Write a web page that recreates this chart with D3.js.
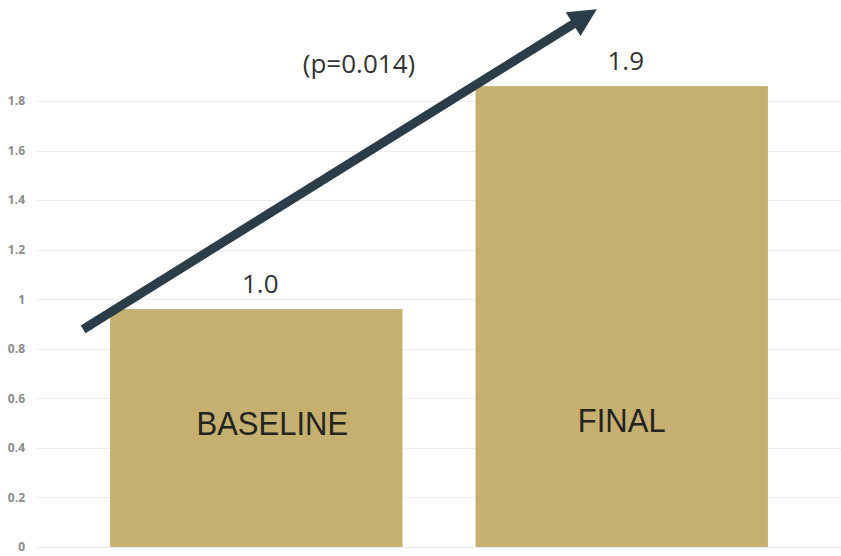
<!DOCTYPE html>
<html>
<head>
<meta charset="utf-8">
<script src="https://cdn.jsdelivr.net/npm/d3@7"></script>
<style>
  html, body { margin: 0; padding: 0; background: #fff; }
  svg { display: block; }
</style>
</head>
<body>
<svg id="chart" width="841" height="556"></svg>
<script>
// Chart data
const categories = ["BASELINE", "FINAL"];
const values = [0.96, 1.86];
const yTicks = [0, 0.2, 0.4, 0.6, 0.8, 1, 1.2, 1.4, 1.6, 1.8];
const pValueLabel = "(p=0.014)";

const W = 841, H = 556;
const svg = d3.select("#chart");

const x = d3.scaleBand()
  .domain(categories)
  .range([37, 841])
  .paddingInner(0.2)
  .paddingOuter(0.2);

const y = d3.scaleLinear()
  .domain([0, 1.8])
  .range([547, 101]);

// Horizontal gridlines
svg.append("g")
  .selectAll("line")
  .data(yTicks)
  .join("line")
  .attr("x1", 37)
  .attr("x2", W)
  .attr("y1", d => Math.round(y(d)) + 0.5)
  .attr("y2", d => Math.round(y(d)) + 0.5)
  .attr("stroke", "#ececec")
  .attr("stroke-width", 1.2);

// Y axis tick labels
const yAxis = d3.axisLeft(y)
  .tickValues(yTicks)
  .tickFormat(d3.format("~g"))
  .tickSize(0)
  .tickPadding(0);

const axisG = svg.append("g")
  .attr("transform", "translate(25,0)")
  .call(yAxis);
axisG.select(".domain").remove();
axisG.selectAll("text")
  .attr("fill", "#8c8c8c")
  .attr("font-family", "'Open Sans', sans-serif")
  .attr("font-weight", 700)
  .attr("font-size", 12);

// Bars
svg.append("g")
  .selectAll("rect")
  .data(categories)
  .join("rect")
  .attr("x", d => x(d))
  .attr("y", (d, i) => y(values[i]))
  .attr("width", x.bandwidth())
  .attr("height", (d, i) => y(0) - y(values[i]))
  .attr("fill", "#c5b070");

// Value labels above bars
svg.append("g")
  .selectAll("text")
  .data(categories)
  .join("text")
  .attr("x", d => x(d) + x.bandwidth() / 2 + 4)
  .attr("y", (d, i) => y(values[i]) - 16)
  .attr("text-anchor", "middle")
  .attr("font-family", "'Open Sans', sans-serif")
  .attr("font-size", 26)
  .attr("fill", "#333")
  .text((d, i) => d3.format(".1f")(values[i]));

// Category names inside bars
const nameShift = [16, 0];
svg.append("g")
  .selectAll("text")
  .data(categories)
  .join("text")
  .attr("x", (d, i) => x(d) + x.bandwidth() / 2 + nameShift[i])
  .attr("y", (d, i) => y(0.45) - i * 3)
  .attr("text-anchor", "middle")
  .attr("font-family", "'Liberation Sans', Arial, sans-serif")
  .attr("font-size", 31)
  .attr("fill", "#23231f")
  .attr("transform", (d, i) => {
    const ty = y(0.45) - i * 3;
    return `translate(0,${ty}) scale(1,1.1) translate(0,${-ty})`;
  })
  .text(d => d);

// Trend arrow from baseline to final
const x0 = x(categories[0]) - 27, y0 = y(values[0] * 0.915);
const x1 = x(categories[1]) + x.bandwidth() * 0.415, y1 = y(2.17);
const ang = Math.atan2(y1 - y0, x1 - x0);
const headLen = 28, headHalf = 14;
const bx = x1 - headLen * Math.cos(ang), by = y1 - headLen * Math.sin(ang);
const nx = -Math.sin(ang), ny = Math.cos(ang);

svg.append("line")
  .attr("x1", x0).attr("y1", y0)
  .attr("x2", bx + 2 * Math.cos(ang)).attr("y2", by + 2 * Math.sin(ang))
  .attr("stroke", "#2b3d48")
  .attr("stroke-width", 9);

svg.append("path")
  .attr("d", d3.line()([
    [x1, y1],
    [bx + nx * headHalf, by + ny * headHalf],
    [bx - nx * headHalf, by - ny * headHalf]
  ]) + "Z")
  .attr("fill", "#2b3d48");

// Significance label
svg.append("text")
  .attr("x", 359)
  .attr("y", 73)
  .attr("text-anchor", "middle")
  .attr("font-family", "'Open Sans', sans-serif")
  .attr("font-size", 26)
  .attr("fill", "#333")
  .text(pValueLabel);
</script>
</body>
</html>
